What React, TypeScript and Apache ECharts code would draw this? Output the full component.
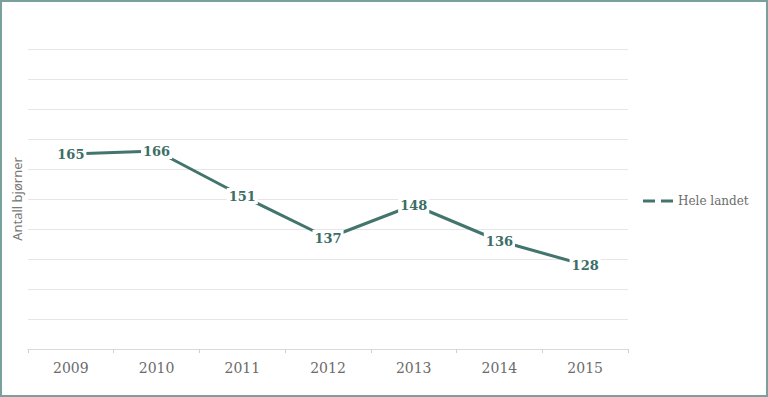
import React, { useEffect, useRef } from "react";
import * as echarts from "echarts";

const categories = ["2009", "2010", "2011", "2012", "2013", "2014", "2015"];
const values = [165, 166, 151, 137, 148, 136, 128];
const seriesName = "Hele landet";
const yAxisName = "Antall bjørner";

export default function App() {
  const ref = useRef<HTMLDivElement>(null);
  useEffect(() => {
    document.body.style.margin = "0";
    const chart = echarts.init(ref.current!, null, { renderer: "svg" });
    chart.setOption({
      animation: false,
      backgroundColor: "#ffffff",
      grid: { left: 26, right: 138, top: 47, bottom: 46, containLabel: false, outerBoundsMode: "none" },
      legend: {
        orient: "vertical",
        left: 636,
        top: 188,
        itemWidth: 30,
        itemHeight: 3,
        itemGap: 8,
        icon: "path://M0,0h12v3h-12z M18,0h12v3h-12z",
        textStyle: { color: "#6b6b6b", fontFamily: "DejaVu Serif", fontSize: 12 },
        data: [{ name: seriesName, itemStyle: { color: "#44756d" } }],
      },
      xAxis: {
        type: "category",
        data: categories,
        axisLine: { lineStyle: { color: "#d9d9d9" } },
        axisTick: { show: true, length: 4, lineStyle: { color: "#d0d0d0" } },
        axisLabel: { color: "#6b6b6b", fontFamily: "DejaVu Serif", fontSize: 14, margin: 12 },
      },
      yAxis: {
        type: "value",
        min: 100,
        max: 200,
        interval: 10,
        name: yAxisName,
        nameLocation: "middle",
        nameGap: 5,
        nameTextStyle: { color: "#7a7a7a", fontFamily: "Noto Sans", fontSize: 13 },
        axisLabel: { show: false },
        axisLine: { show: false },
        axisTick: { show: false },
        splitLine: { lineStyle: { color: "#e6e6e6" } },
      },
      series: [
        {
          name: seriesName,
          type: "line",
          data: values,
          symbol: "circle",
          symbolSize: 0,
          itemStyle: { color: "#44756d" },
          lineStyle: { color: "#44756d", width: 3 },
          label: {
            show: true,
            position: "inside",
            color: "#3b6e66",
            fontFamily: "DejaVu Serif",
            fontWeight: "bold",
            fontSize: 13,
            backgroundColor: "#ffffff",
            padding: [2, 2, 1, 2],
          },
        },
      ],
    });
    return () => chart.dispose();
  }, []);
  return (
    <div
      style={{
        width: 768,
        height: 397,
        boxSizing: "border-box",
        border: "2px solid #7aa09b",
      }}
    >
      <div ref={ref} style={{ width: 764, height: 393 }} />
    </div>
  );
}
